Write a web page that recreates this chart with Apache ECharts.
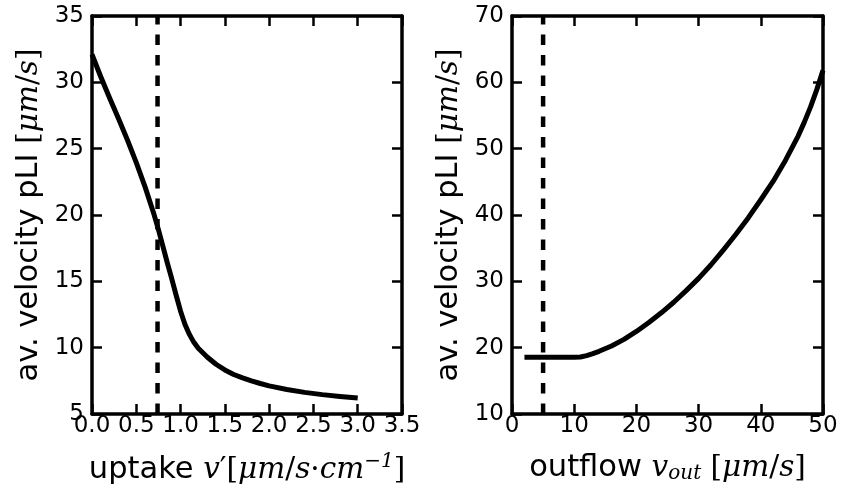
<!DOCTYPE html>
<html>
<head>
<meta charset="utf-8">
<script src="https://cdn.jsdelivr.net/npm/echarts@6/dist/echarts.min.js"></script>
<style>
html,body{margin:0;padding:0;background:#fff;}
#c{width:841px;height:494px;}
</style>
</head>
<body>
<div id="c"></div>
<script>
// Left panel: uptake v' vs average velocity
var uptakeX = [0, 0.1, 0.2, 0.3, 0.4, 0.5, 0.6, 0.7, 0.75, 0.8, 0.85, 0.9, 0.95, 1.0, 1.05, 1.1, 1.15, 1.2, 1.3, 1.4, 1.5, 1.6, 1.7, 1.8, 1.9, 2.0, 2.2, 2.4, 2.6, 2.8, 3.0];
var uptakeY = [32.1, 30.4, 28.8, 27.25, 25.65, 23.95, 22.1, 20.05, 18.9, 17.65, 16.4, 15.2, 13.95, 12.75, 11.75, 11.0, 10.4, 9.95, 9.3, 8.75, 8.32, 7.98, 7.72, 7.5, 7.3, 7.12, 6.85, 6.63, 6.46, 6.32, 6.2];
var uptakeRef = 0.74;

// Right panel: outflow v_out vs average velocity
var outflowX = [2, 4, 6, 8, 10, 11, 12, 13, 14, 16, 18, 20, 22, 24, 26, 28, 30, 32, 34, 36, 38, 40, 42, 44, 46, 47, 48, 49, 50];
var outflowY = [18.55, 18.55, 18.55, 18.55, 18.55, 18.6, 18.8, 19.1, 19.45, 20.25, 21.25, 22.45, 23.8, 25.25, 26.85, 28.6, 30.45, 32.5, 34.75, 37.1, 39.6, 42.3, 45.1, 48.3, 51.9, 54.0, 56.3, 58.9, 61.8];
var outflowRef = 5;

// Axis ranges / tick steps [min, max, interval]
var leftXRange = [0, 3.5, 0.5];
var leftYRange = [5, 35, 5];
var rightXRange = [0, 50, 10];
var rightYRange = [10, 70, 10];

function zip(xs, ys) { return xs.map(function (x, i) { return [x, ys[i]]; }); }

var tickFont = 'DejaVu Sans';
var mathFont = 'DejaVu Serif';
var nameRich = {
  t: { fontFamily: 'DejaVu Sans', fontSize: 30.5, color: '#000' },
  i: { fontFamily: mathFont, fontStyle: 'italic', fontSize: 29.5, color: '#000' },
  r: { fontFamily: mathFont, fontSize: 29.5, color: '#000' },
  sup: { fontFamily: mathFont, fontStyle: 'italic', fontSize: 20, color: '#000', verticalAlign: 'top', padding: [0, 0, 16, 0] },
  sub: { fontFamily: mathFont, fontStyle: 'italic', fontSize: 20, color: '#000', verticalAlign: 'bottom', padding: [12, 0, 0, 0] }
};
var axisLineStyle = { color: '#000', width: 3.5 };
var tickStyle = { show: true, inside: true, length: 10, lineStyle: { color: '#000', width: 2.5 } };

function xAxisMain(gi, rng, fmt, name) {
  return {
    type: 'value', gridIndex: gi, min: rng[0], max: rng[1], interval: rng[2], position: 'bottom',
    axisLine: { show: true, onZero: false, lineStyle: axisLineStyle },
    axisTick: tickStyle,
    axisLabel: { color: '#000', fontFamily: tickFont, fontSize: 23, margin: 1, formatter: fmt, showMinLabel: true, showMaxLabel: true, hideOverlap: false },
    splitLine: { show: false },
    name: name, nameLocation: 'middle', nameGap: 38, nameTextStyle: { rich: nameRich }
  };
}
function xAxisTop(gi, rng) {
  return {
    type: 'value', gridIndex: gi, min: rng[0], max: rng[1], interval: rng[2], position: 'top',
    axisLine: { show: true, onZero: false, lineStyle: axisLineStyle },
    axisTick: tickStyle,
    axisLabel: { show: false }, splitLine: { show: false }
  };
}
function yAxisMain(gi, rng, name) {
  return {
    type: 'value', gridIndex: gi, min: rng[0], max: rng[1], interval: rng[2], position: 'left',
    axisLine: { show: true, onZero: false, lineStyle: axisLineStyle },
    axisTick: tickStyle,
    axisLabel: { color: '#000', fontFamily: tickFont, fontSize: 23, margin: 8, showMinLabel: true, showMaxLabel: true, hideOverlap: false },
    splitLine: { show: false },
    name: name, nameLocation: 'middle', nameRotate: 90, nameGap: 47, nameTextStyle: { rich: nameRich }
  };
}
function yAxisRight(gi, rng) {
  return {
    type: 'value', gridIndex: gi, min: rng[0], max: rng[1], interval: rng[2], position: 'right',
    axisLine: { show: true, onZero: false, lineStyle: axisLineStyle },
    axisTick: tickStyle,
    axisLabel: { show: false }, splitLine: { show: false }
  };
}

var yName = '{t|av. velocity pLI }{r|[}{i|μm}{r|/}{i|s}{r|]}';
var xNameL = '{t|uptake }{i|v}{r|′[}{i|μm}{r|/}{i|s}{r|·}{i|cm}{sup|−1}{r|]}';
var xNameR = '{t|outflow }{i|v}{sub|out}{r| [}{i|μm}{r|/}{i|s}{r|]}';

var curveStyle = { color: '#000', width: 5, join: 'round', cap: 'butt' };
var dashStyle = { color: '#000', width: 4.5, type: [10.5, 10] };

var chart = echarts.init(document.getElementById('c'), null, { renderer: 'canvas' });
chart.setOption({
  backgroundColor: '#fff',
  animation: false,
  grid: [
    { left: 92, top: 16, width: 310, height: 398, containLabel: false },
    { left: 512, top: 16, width: 311, height: 398, containLabel: false }
  ],
  xAxis: [
    xAxisMain(0, leftXRange, function (v) { return v.toFixed(1); }, xNameL),
    xAxisMain(1, rightXRange, function (v) { return String(v); }, xNameR),
    xAxisTop(0, leftXRange),
    xAxisTop(1, rightXRange)
  ],
  yAxis: [
    yAxisMain(0, leftYRange, yName),
    yAxisMain(1, rightYRange, yName),
    yAxisRight(0, leftYRange),
    yAxisRight(1, rightYRange)
  ],
  series: [
    { type: 'line', xAxisIndex: 0, yAxisIndex: 0, data: zip(uptakeX, uptakeY), smooth: false, showSymbol: false, lineStyle: curveStyle, z: 3 },
    { type: 'line', xAxisIndex: 0, yAxisIndex: 0, data: [[uptakeRef, leftYRange[0]], [uptakeRef, leftYRange[1]]], showSymbol: false, lineStyle: dashStyle, z: 2 },
    { type: 'line', xAxisIndex: 1, yAxisIndex: 1, data: zip(outflowX, outflowY), smooth: false, showSymbol: false, lineStyle: curveStyle, z: 3 },
    { type: 'line', xAxisIndex: 1, yAxisIndex: 1, data: [[outflowRef, rightYRange[0]], [outflowRef, rightYRange[1]]], showSymbol: false, lineStyle: dashStyle, z: 2 }
  ]
});
</script>
</body>
</html>
